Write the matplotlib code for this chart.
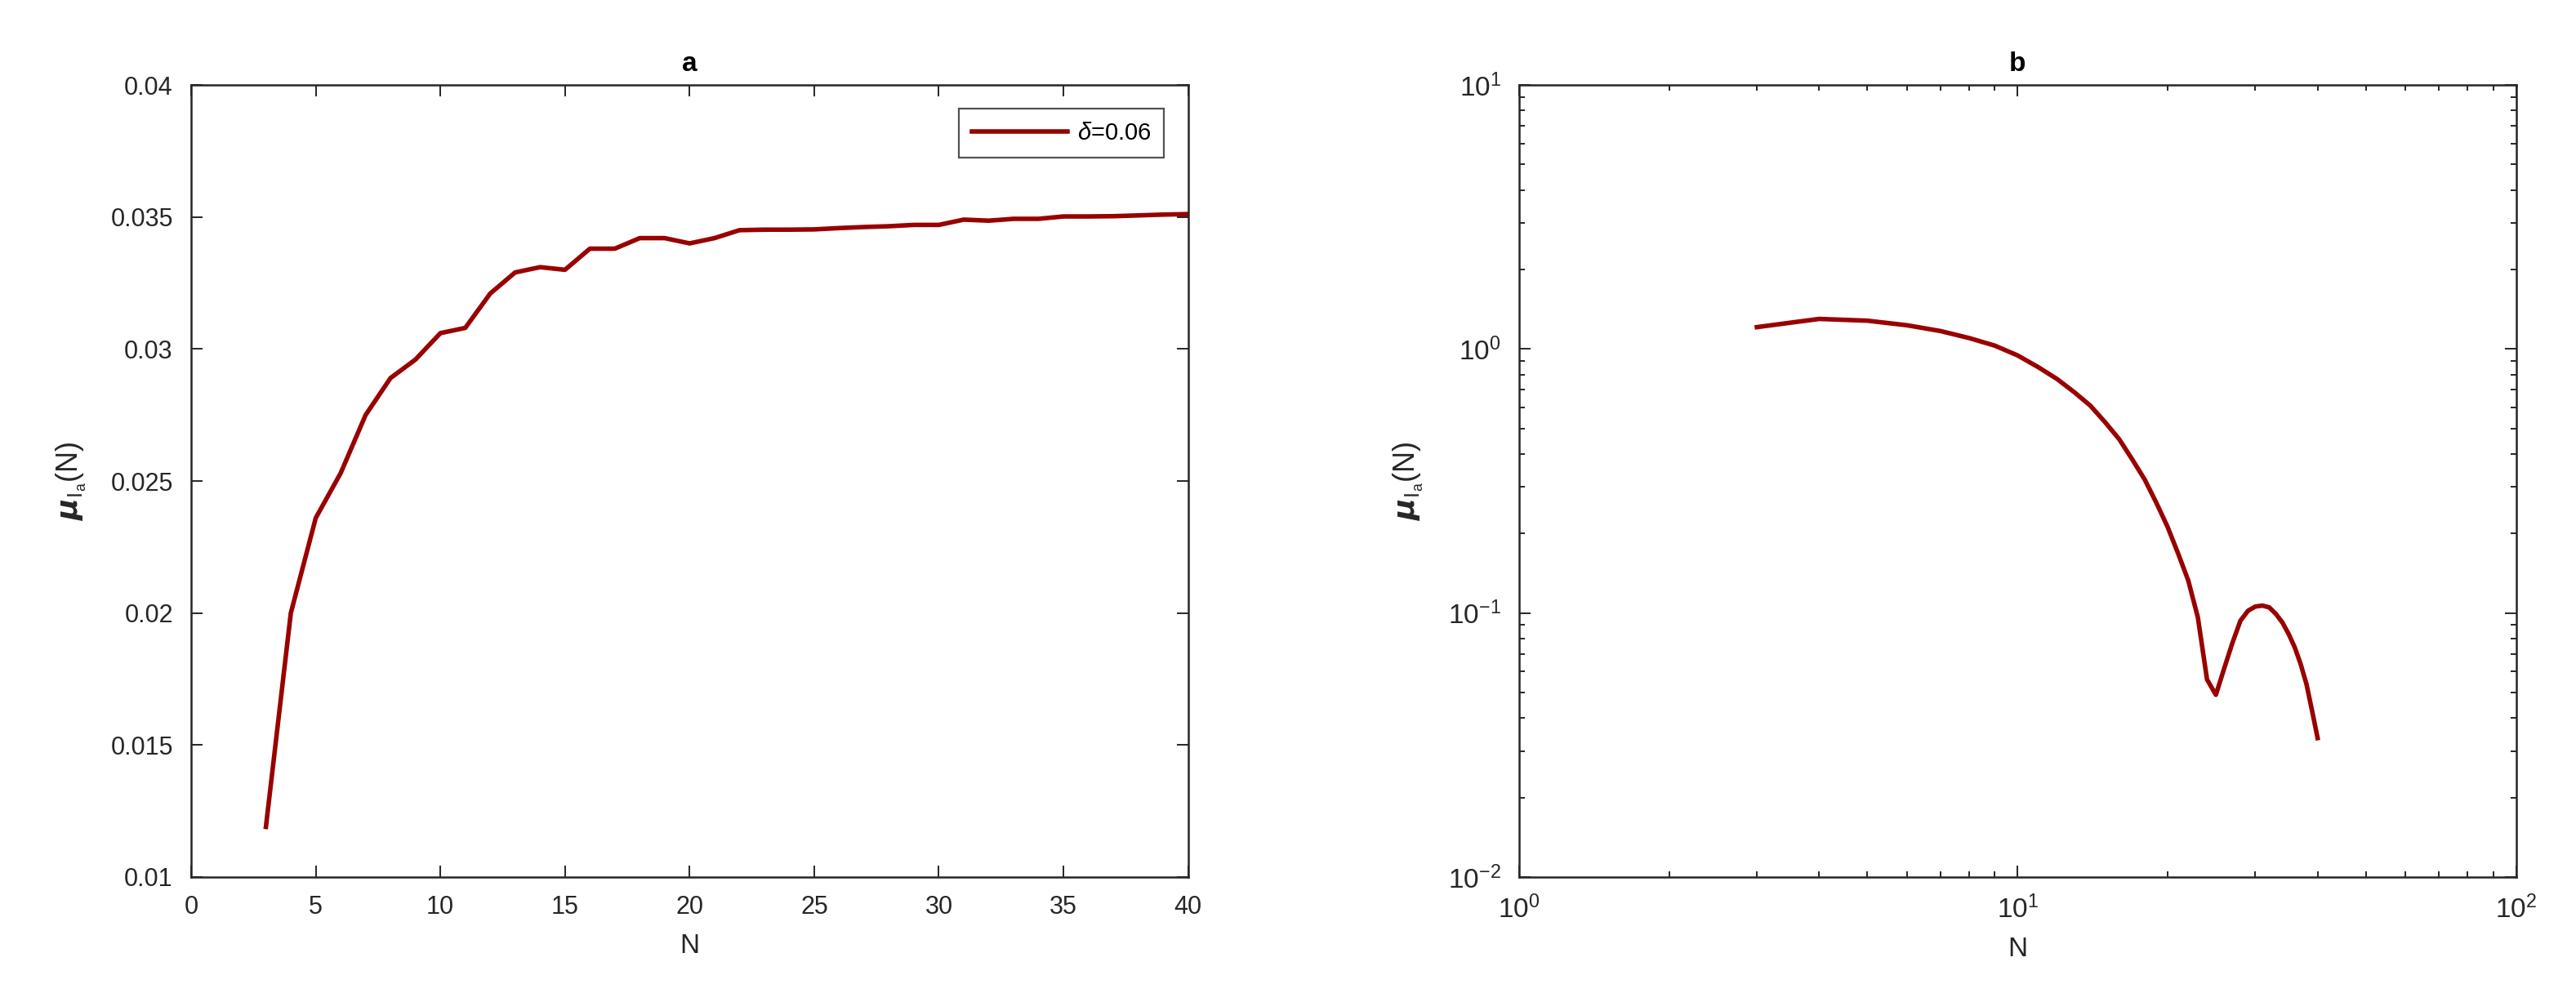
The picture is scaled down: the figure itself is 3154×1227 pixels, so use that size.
import numpy as np
import matplotlib
matplotlib.use("Agg")
import matplotlib.pyplot as plt

plt.rcParams['font.family'] = ['Liberation Sans', 'DejaVu Sans']
plt.rcParams['mathtext.fontset'] = 'custom'
plt.rcParams['mathtext.rm'] = 'Liberation Sans'
plt.rcParams['mathtext.it'] = 'Liberation Sans:italic'
plt.rcParams['mathtext.bf'] = 'Liberation Sans:bold'

# panel a: mu_Ia(N) for delta = 0.06
N = list(range(3, 41))
mu_a = [0.0119, 0.0200, 0.0236, 0.0253, 0.0275, 0.0289, 0.0296, 0.0306,
        0.0308, 0.0321, 0.0329, 0.0331, 0.0330, 0.0338, 0.0338, 0.0342,
        0.0342, 0.0340, 0.0342, 0.0345, 0.03452, 0.03452, 0.03453, 0.03458,
        0.03462, 0.03465, 0.0347, 0.0347, 0.0349, 0.03486, 0.03493, 0.03493,
        0.03502, 0.03502, 0.03503, 0.03506, 0.03509, 0.03511]

# panel b: log-log
mu_b = [1.21, 1.30, 1.28, 1.23, 1.17, 1.10, 1.03, 0.946, 0.854, 0.77,
        0.686, 0.61, 0.527, 0.455, 0.381, 0.32, 0.261, 0.212, 0.168, 0.133,
        0.0964, 0.056, 0.0490, 0.062, 0.0773, 0.0935, 0.102, 0.1058, 0.1067,
        0.105, 0.0991, 0.092, 0.0832, 0.074, 0.0639, 0.0537, 0.0425, 0.0336]

log_ticks = [1, 10, 100]
log_labels = ['0', '1', '2']
log_yticks = [0.01, 0.1, 1, 10]
log_ylabels = ['-2', '-1', '0', '1']

line_col = '#990000'
ax_col = '#262626'

fig = plt.figure(figsize=(15.77, 6.135), dpi=200)
ax1 = fig.add_axes([0.0742, 0.1247, 0.387, 0.7905])
ax2 = fig.add_axes([0.5897, 0.1247, 0.387, 0.7905])

ylab = r'$\boldsymbol{\mu}_{\mathrm{I}_{\mathrm{a}}}$(N)'
for ax in (ax1, ax2):
    for s in ax.spines.values():
        s.set_color(ax_col)
        s.set_linewidth(0.9)
    ax.tick_params(which='both', direction='in', top=True, right=True,
                   colors=ax_col, labelcolor=ax_col, labelsize=11, width=0.7)
    ax.tick_params(which='major', length=5, pad=8)
    ax.tick_params(which='minor', length=2.5)
    ax.set_xlabel('N', fontsize=12, color=ax_col, labelpad=6)
    ax.set_ylabel(ylab, fontsize=13, color=ax_col, labelpad=10)

ax1.plot(N, mu_a, color=line_col, lw=2.0, label=r'$\delta$=0.06')
ax1.set_xlim(0, 40)
ax1.set_ylim(0.01, 0.04)
ax1.set_xticks(range(0, 41, 5))
ax1.set_yticks([0.01, 0.015, 0.02, 0.025, 0.03, 0.035, 0.04])
ax1.set_yticklabels(['0.01', '0.015', '0.02', '0.025', '0.03', '0.035', '0.04'])
ax1.set_title('a', fontsize=12, fontweight='bold', pad=6)
leg = ax1.legend(loc='upper right', fontsize=10.5, frameon=True, fancybox=False,
                 borderaxespad=1.0, handlelength=4.0, handletextpad=0.4,
                 borderpad=0.55)
leg.get_frame().set_edgecolor(ax_col)
leg.get_frame().set_linewidth(0.8)

ax2.plot(N, mu_b, color=line_col, lw=2.0)
ax2.set_xscale('log')
ax2.set_yscale('log')
ax2.set_xlim(1, 100)
ax2.set_ylim(0.01, 10)
ax2.set_xticks(log_ticks)
ax2.set_xticklabels([r'$10^{\mathregular{%s}}$' % t for t in log_labels])
ax2.set_yticks(log_yticks)
ax2.set_yticklabels([r'$10^{\mathregular{%s}}$' % t for t in log_ylabels])
ax2.tick_params(which='major', labelsize=12)
ax2.set_title('b', fontsize=12, fontweight='bold', pad=6)

fig.savefig('out.png', dpi=200)
